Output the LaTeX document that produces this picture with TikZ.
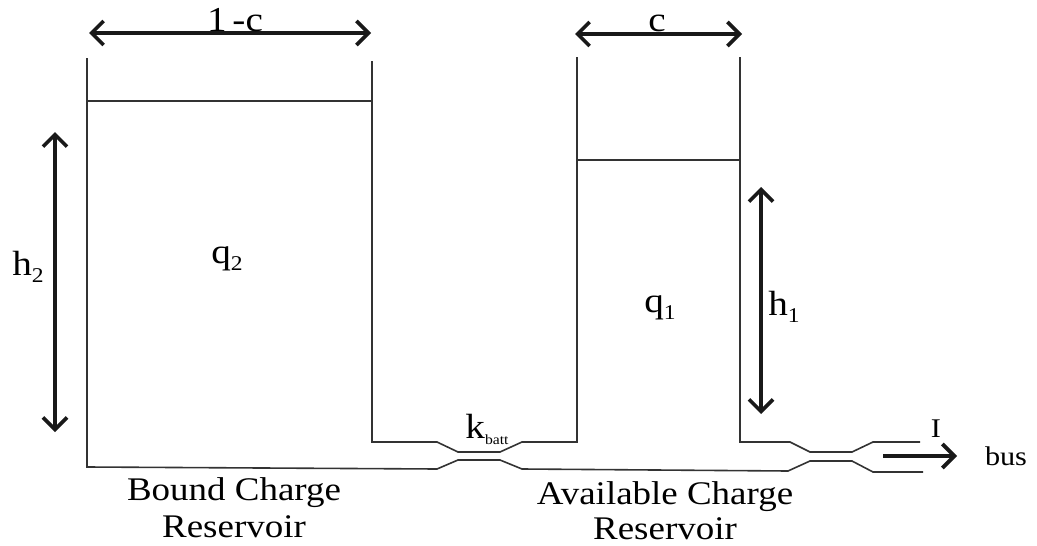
\documentclass[tikz,border=0pt]{standalone}
\usepackage{fontspec}
\setmainfont[FakeStretch=1.12]{Liberation Serif}
\usetikzlibrary{arrows.meta}
\newcommand{\lowidx}[1]{\raisebox{-7.5pt}{\fontsize{21}{22}\selectfont #1}}
\tikzset{
  wall/.style={line width=1.6pt,draw=black!80,line join=miter},
  dim/.style={line width=3.6pt,draw=black!90,{Straight Barb[length=12pt,width=24pt,line width=3.6pt]}-{Straight Barb[length=12pt,width=24pt,line width=3.6pt]}},
  flow/.style={line width=4.2pt,draw=black!90,-{Straight Barb[length=12pt,width=24pt,line width=3.8pt]}},
  lab/.style={inner sep=0pt,font=\fontsize{35}{38}\selectfont,text=black},
  cap2/.style={inner sep=0pt,align=center,font=\fontsize{33}{36}\selectfont,text=black}
}
\begin{document}
\begin{tikzpicture}[x=1pt,y=-1pt]
\useasboundingbox (0,0) rectangle (1037,546);
% corner points
\coordinate (ltl) at (87,58);
\coordinate (lbl) at (87,467);
\coordinate (ltr) at (372,61);
\coordinate (lbr) at (372,442);
\coordinate (rtl) at (577,57);
\coordinate (rbl) at (577,442);
\coordinate (rtr) at (740,57);
\coordinate (rbr) at (740,442);
\coordinate (oute1) at (920,442);
\coordinate (oute2) at (923,472);
\coordinate (wl1) at (87,101);
\coordinate (wl2) at (372,101);
\coordinate (wr1) at (577,160);
\coordinate (wr2) at (740,160);
% tanks
\draw[wall] (ltr) -- (lbr) -- (437,442) -- (458,452) -- (500,452) -- (522,442) -- (rbl) -- (rtl);
\draw[wall] (rtr) -- (rbr) -- (790,442) -- (810,452) -- (852,452) -- (873,442) -- (oute1);
\draw[wall] (ltl) -- (lbl) -- (437,469) -- (458,460) -- (500,460) -- (522,469) -- (788,471) -- (810,461) -- (852,461) -- (873,472) -- (oute2);
\draw[wall] (wl1) -- (wl2);
\draw[wall] (wr1) -- (wr2);
% dimension arrows
\coordinate (a1) at (89,33);
\coordinate (a2) at (371,33);
\coordinate (b1) at (575,34);
\coordinate (b2) at (742,34);
\coordinate (c1) at (55,132);
\coordinate (c2) at (55,432);
\coordinate (d1) at (761,187);
\coordinate (d2) at (761,414);
\coordinate (e1) at (883,456);
\coordinate (e2) at (957,456);
\draw[dim] (a1) -- (a2);
\draw[dim] (b1) -- (b2);
\draw[dim] (c1) -- (c2);
\draw[dim] (d1) -- (d2);
\draw[flow] (e1) -- (e2);
% labels
\node[lab,anchor=base] (t1c) at (235,31) {1\,-c};
\node[lab,anchor=base] (tc) at (657,31) {c};
\node[lab,anchor=base] (th2) at (28,275) {h\lowidx{2}};
\node[lab,anchor=base] (tq2) at (227,263) {q\lowidx{2}};
\node[lab,anchor=base] (tq1) at (660,312) {q\lowidx{1}};
\node[lab,anchor=base] (th1) at (784,315) {h\lowidx{1}};
\node[lab,anchor=base] (tk) at (487,438) {k\raisebox{-6pt}{\fontsize{14}{16}\selectfont batt}};
\node[lab,anchor=base,font=\fontsize{27}{30}\selectfont] (tI) at (936,437) {I};
\node[lab,anchor=base,font=\fontsize{27}{30}\selectfont] (tbus) at (1006,465) {bus};
\node[cap2,anchor=base] (tb) at (234,500) {Bound Charge};
\node[cap2,anchor=base] (tb2) at (234,537) {Reservoir};
\node[cap2,anchor=base] (ta) at (665,504) {Available Charge};
\node[cap2,anchor=base] (ta2) at (665,539) {Reservoir};
\end{tikzpicture}
\end{document}
